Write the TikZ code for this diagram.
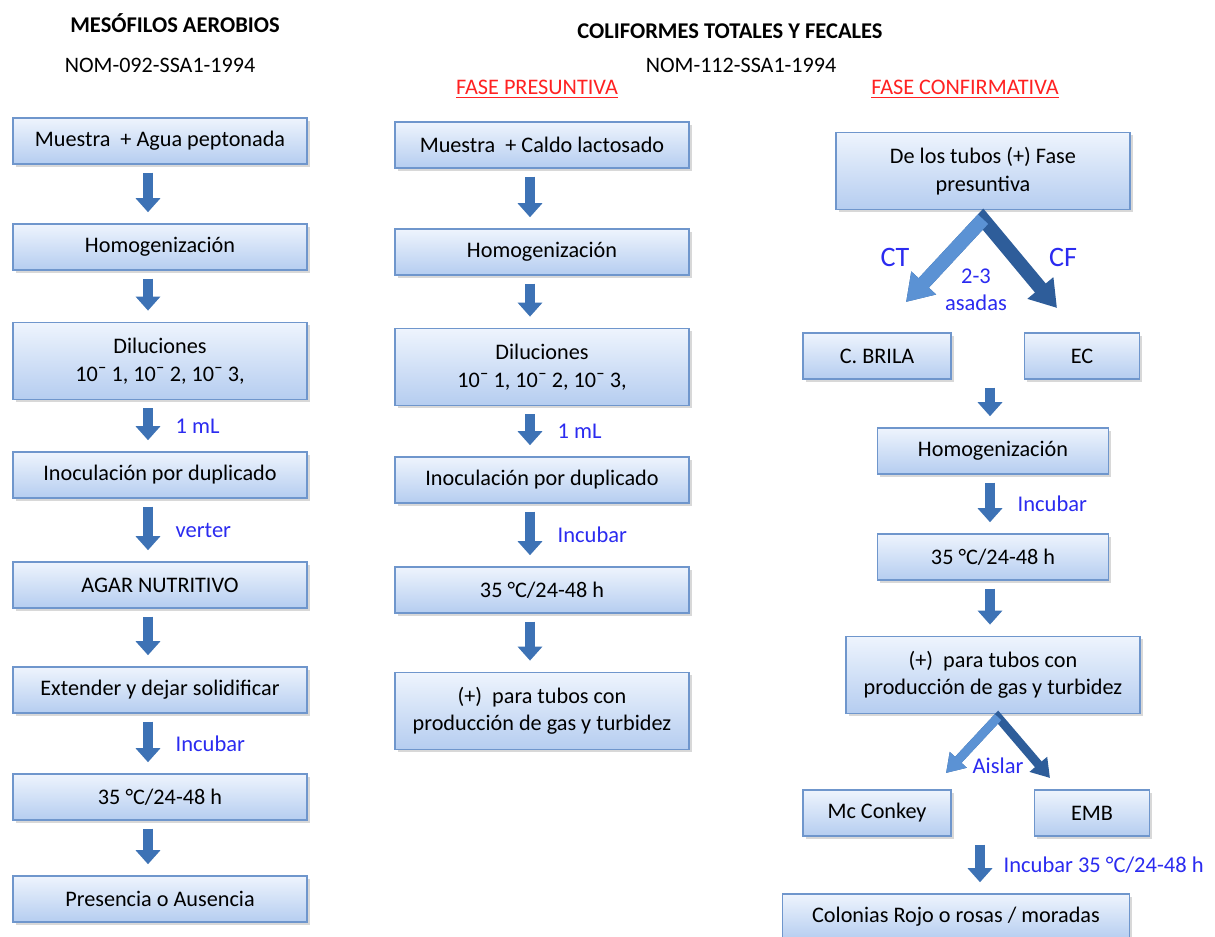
\documentclass[tikz,border=0pt]{standalone}
\usepackage{fontspec}
\setmainfont{Carlito}
\usetikzlibrary{arrows.meta,shadows,calc}

\definecolor{boxtop}{HTML}{EEF4FD}
\definecolor{boxbot}{HTML}{B5CDF0}
\definecolor{boxline}{HTML}{6F96CC}
\definecolor{arrowblue}{HTML}{3D72B5}
\definecolor{lightarrow}{HTML}{5B92D4}
\definecolor{darkarrow}{HTML}{2E5D9A}
\definecolor{notecolor}{HTML}{2B2BF0}
\definecolor{fasered}{HTML}{FF2222}

\tikzset{
  stepbox/.style={draw=boxline, line width=0.8pt, top color=boxtop, bottom color=boxbot,
    minimum width=7.35cm, minimum height=1.15cm, align=center,
    font=\fontsize{15.8}{19.5}\selectfont,
    drop shadow={opacity=0.3, shadow xshift=2pt, shadow yshift=-2pt}},
  tallbox/.style={stepbox, minimum height=1.93cm},
  downarrow/.style={draw=arrowblue, line width=0.25cm, shorten <=0.2cm, shorten >=0.28cm,
    -{Triangle[width=0.6cm,length=0.35cm]}},
  splitarrow/.style={line width=0.35cm, -{Triangle[width=0.8cm,length=0.65cm]}},
  smallsplit/.style={line width=0.22cm, -{Triangle[width=0.55cm,length=0.45cm]}},
  note/.style={text=notecolor, font=\fontsize{16}{19.5}\selectfont},
  bignote/.style={text=notecolor, font=\fontsize{20}{24}\selectfont},
  title/.style={font=\bfseries\fontsize{16}{19}\selectfont},
  norma/.style={font=\fontsize{15.7}{18}\selectfont},
  fase/.style={text=fasered, font=\fontsize{15.8}{18}\selectfont}
}

\begin{document}
\begin{tikzpicture}[x=0.025cm,y=-0.025cm]
\useasboundingbox [fill=white] (0,0) rectangle (1215,937);

% titulos
\node [title] (mtitle) at (175,23) {MESÓFILOS AEROBIOS};
\node [norma] (mnom) at (160,65) {NOM-092-SSA1-1994};
\node [title] (ctitle) at (730,31) {COLIFORMES TOTALES Y FECALES};
\node [norma] (cnom) at (741,65) {NOM-112-SSA1-1994};
\node [fase] (fpres) at (537,89) {\underline{FASE PRESUNTIVA}};
\node [fase] (fconf) at (965,89) {\underline{FASE CONFIRMATIVA}};

% mesofilos aerobios
\node [stepbox] (m1) at (160,141) {Muestra\ \ + Agua peptonada};
\node [stepbox] (m2) at (160,247) {Homogenización};
\node [tallbox] (m3) at (160,361) {Diluciones\\10¯ 1, 10¯ 2, 10¯ 3,};
\node [stepbox] (m4) at (160,475) {Inoculación por duplicado};
\node [stepbox] (m5) at (160,585) {AGAR NUTRITIVO};
\node [stepbox] (m6) at (160,690) {Extender y dejar solidificar};
\node [stepbox] (m7) at (160,797) {35 °C/24-48 h};
\node [stepbox] (m8) at (160,899) {Presencia o Ausencia};

\draw [downarrow] ($(m1.south)+(-12,0)$) -- ($(m2.north)+(-12,0)$);
\draw [downarrow] ($(m2.south)+(-12,0)$) -- ($(m3.north)+(-12,0)$);
\draw [downarrow] ($(m3.south)+(-12,0)$) -- ($(m4.north)+(-12,0)$)
  node [note, midway, right=0.45cm] (mml) {1 mL};
\draw [downarrow] ($(m4.south)+(-12,0)$) -- ($(m5.north)+(-12,0)$)
  node [note, midway, right=0.45cm] (mvert) {verter};
\draw [downarrow] ($(m5.south)+(-12,0)$) -- ($(m6.north)+(-12,0)$);
\draw [downarrow] ($(m6.south)+(-12,0)$) -- ($(m7.north)+(-12,0)$)
  node [note, midway, right=0.45cm] (minc) {Incubar};
\draw [downarrow] ($(m7.south)+(-12,0)$) -- ($(m8.north)+(-12,0)$);

% fase presuntiva
\node [stepbox] (p1) at (542,145) {Muestra\ \ + Caldo lactosado};
\node [stepbox] (p2) at (542,252) {Homogenización};
\node [tallbox] (p3) at (542,367) {Diluciones\\10¯ 1, 10¯ 2, 10¯ 3,};
\node [stepbox] (p4) at (542,480) {Inoculación por duplicado};
\node [stepbox] (p5) at (542,590) {35 °C/24-48 h};
\node [tallbox] (p6) at (542,711) {(+)\ \ para tubos con\\producción de gas y turbidez};

\draw [downarrow] ($(p1.south)+(-12,0)$) -- ($(p2.north)+(-12,0)$);
\draw [downarrow] ($(p2.south)+(-12,0)$) -- ($(p3.north)+(-12,0)$);
\draw [downarrow] ($(p3.south)+(-12,0)$) -- ($(p4.north)+(-12,0)$)
  node [note, midway, right=0.45cm] (pml) {1 mL};
\draw [downarrow] ($(p4.south)+(-12,0)$) -- ($(p5.north)+(-12,0)$)
  node [note, midway, right=0.45cm] (pinc) {Incubar};
\draw [downarrow] ($(p5.south)+(-12,0)$) -- ($(p6.north)+(-12,0)$);

% fase confirmativa
\node [tallbox] (c1) at (983,171) {De los tubos (+) Fase\\presuntiva};
\node [stepbox, minimum width=3.7cm] (c2) at (877,356) {C. BRILA};
\node [stepbox, minimum width=2.875cm] (c3) at (1082,356) {EC};
\node [stepbox, minimum width=5.775cm] (c4) at (993,451) {Homogenización};
\node [stepbox, minimum width=5.775cm] (c5) at (993,557) {35 °C/24-48 h};
\node [tallbox] (c6) at (993,675) {(+)\ \ para tubos con\\producción de gas y turbidez};
\node [stepbox, minimum width=3.7cm] (c7) at (877,813) {Mc Conkey};
\node [stepbox, minimum width=2.875cm] (c8) at (1092,813) {EMB};
\node [stepbox, minimum width=8.675cm] (c9) at (956,917) {Colonias Rojo o rosas / moradas};

\coordinate (ctop) at ($(c1.south)+(0,9)$);
\coordinate (ctend) at (906,302);
\coordinate (cfend) at (1057,308);
\draw [splitarrow, draw=darkarrow, {Triangle[width=0.8cm,length=0.65cm]}-{Triangle[width=0.8cm,length=0.65cm]}] (ctend) -- (ctop) -- (cfend);
\draw [splitarrow, draw=lightarrow] (ctop) -- (ctend);
\node [bignote] (ct) at (895,257) {CT};
\node [bignote] (cf) at (1063,257) {CF};
\node [note, align=center] (asadas) at (976,290) {2-3\\asadas};

\draw [downarrow] ($(c3.south -| c4.north)+(-3,0)$) -- ($(c4.north)+(-3,0)$);
\draw [downarrow] ($(c4.south)+(-3,0)$) -- ($(c5.north)+(-3,0)$)
  node [note, midway, right=0.45cm] (cinc) {Incubar};
\draw [downarrow] ($(c5.south)+(-3,0)$) -- ($(c6.north)+(-3,0)$);

\coordinate (atop) at ($(c6.south)+(5,3)$);
\coordinate (aleft) at (946,773);
\coordinate (aright) at (1050,778);
\draw [smallsplit, draw=darkarrow, {Triangle[width=0.55cm,length=0.45cm]}-{Triangle[width=0.55cm,length=0.45cm]}] (aleft) -- (atop) -- (aright);
\draw [smallsplit, draw=lightarrow] (atop) -- (aleft);
\node [note] (aislar) at (998,766) {Aislar};

\draw [downarrow] ($(c8.south -| c9.north)+(24,0)$) -- ($(c9.north)+(24,0)$)
  node [note, midway, right=0.35cm] (cfin) {Incubar 35 °C/24-48 h};
\end{tikzpicture}
\end{document}
